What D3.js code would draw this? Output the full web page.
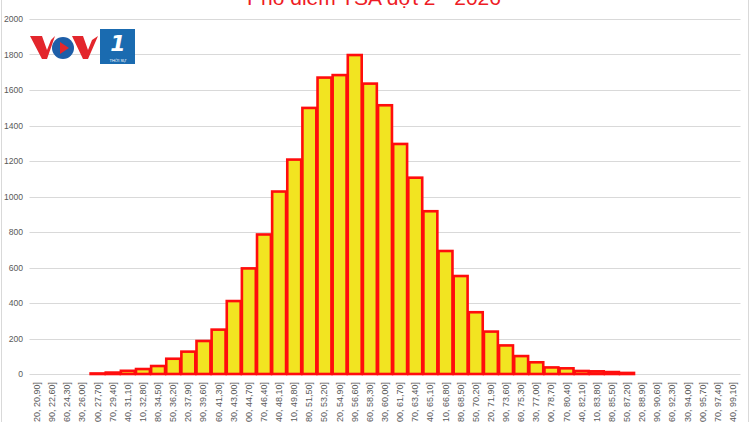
<!DOCTYPE html>
<html>
<head>
<meta charset="utf-8">
<script src="https://cdn.jsdelivr.net/npm/d3@7/dist/d3.min.js"></script>
<style>
html,body{margin:0;padding:0;background:#fff;}
svg{display:block;}
</style>
</head>
<body>
<svg id="chart" width="750" height="422"></svg>
<script>
const titleText = "Phổ điểm TSA đợt 2 - 2026";
const binLabels = [
"[19,20, 20,90]","(20,90, 22,60]","(22,60, 24,30]","(24,30, 26,00]","(26,00, 27,70]",
"(27,70, 29,40]","(29,40, 31,10]","(31,10, 32,80]","(32,80, 34,50]","(34,50, 36,20]",
"(36,20, 37,90]","(37,90, 39,60]","(39,60, 41,30]","(41,30, 43,00]","(43,00, 44,70]",
"(44,70, 46,40]","(46,40, 48,10]","(48,10, 49,80]","(49,80, 51,50]","(51,50, 53,20]",
"(53,20, 54,90]","(54,90, 56,60]","(56,60, 58,30]","(58,30, 60,00]","(60,00, 61,70]",
"(61,70, 63,40]","(63,40, 65,10]","(65,10, 66,80]","(66,80, 68,50]","(68,50, 70,20]",
"(70,20, 71,90]","(71,90, 73,60]","(73,60, 75,30]","(75,30, 77,00]","(77,00, 78,70]",
"(78,70, 80,40]","(80,40, 82,10]","(82,10, 83,80]","(83,80, 85,50]","(85,50, 87,20]",
"(87,20, 88,90]","(88,90, 90,60]","(90,60, 92,30]","(92,30, 94,00]","(94,00, 95,70]",
"(95,70, 97,40]","(97,40, 99,10]"
];
const counts = [
0,0,0,0,3,
8,18,28,45,86,
126,186,250,411,595,
786,1028,1208,1499,1670,
1684,1797,1636,1514,1296,
1106,917,693,552,348,
239,161,101,66,37,
32,17,15,11,6,
0,0,0,0,0,
0,0
];
const yTicks = [0,200,400,600,800,1000,1200,1400,1600,1800,2000];

const svg = d3.select("#chart");
const W = 750, H = 422;

// chart border
svg.append("rect").attr("x",1.5).attr("y",-5).attr("width",W-3).attr("height",H+10)
  .attr("fill","none").attr("stroke","#d9d9d9").attr("stroke-width",1);

const x = d3.scaleBand().domain(binLabels).range([29.5, 740.5]).paddingInner(0.08).paddingOuter(0.04);
const y = d3.scaleLinear().domain([0,2000]).range([374, 19]);

// gridlines
svg.append("g").selectAll("line").data(yTicks).join("line")
  .attr("x1",29.5).attr("x2",740.5)
  .attr("y1",d=>Math.round(y(d))+0.5).attr("y2",d=>Math.round(y(d))+0.5)
  .attr("stroke","#d9d9d9").attr("stroke-width",1);

// y axis labels
const yAxis = d3.axisLeft(y).tickValues(yTicks).tickFormat(d3.format("d")).tickSize(0).tickPadding(0);
const gy = svg.append("g").attr("transform","translate(23,0)").call(yAxis);
gy.select(".domain").remove();
gy.selectAll("text").attr("fill","#595959").attr("font-size","8.6px")
  .attr("font-family","'Liberation Sans', Arial, sans-serif");

// bars
const data = binLabels.map((l,i)=>({label:l, value:counts[i]}));
svg.append("g").selectAll("rect").data(data.filter(d=>d.value>0)).join("rect")
  .attr("x",d=>x(d.label)).attr("width",x.bandwidth())
  .attr("y",d=>y(d.value)).attr("height",d=>y(0)-y(d.value))
  .attr("fill","#f2e421").attr("stroke","#ff0d0d").attr("stroke-width",2.6);

// x axis labels
const xAxis = d3.axisBottom(x).tickSize(0).tickPadding(0);
const gx = svg.append("g").attr("transform","translate(0,374)").call(xAxis);
gx.select(".domain").remove();
gx.selectAll("text")
  .attr("fill","#595959").attr("font-size","9px")
  .attr("font-family","'Liberation Sans', Arial, sans-serif")
  .attr("text-anchor","end")
  .attr("dy",null)
  .attr("transform","translate(3,8) rotate(-90)")
  .attr("y",0).attr("x",0);

// title
svg.append("text").attr("x",374).attr("y",5).attr("text-anchor","middle")
  .attr("font-family","'Liberation Sans', Arial, sans-serif").attr("font-size","21px")
  .attr("fill","#ee1c25").text(titleText);

// logo
const logo = svg.append("g");
logo.append("path").attr("d","M30,36 L42,36 L47,50 L51,40 L55,36 L47,59 L42,59 Z").attr("fill","#e3262c");
logo.append("circle").attr("cx",63).attr("cy",48).attr("r",11).attr("fill","#1d5ea8");
logo.append("path").attr("d","M60,42 L69,48 L60,54 Z").attr("fill","#e3262c");
logo.append("path").attr("d","M72,36 L83,36 L88,50 L92,40 L98,36 L88,59 L83,59 Z").attr("fill","#e3262c");
logo.append("rect").attr("x",100).attr("y",29).attr("width",35).attr("height",35).attr("fill","#1a6bb0");
logo.append("text").attr("x",118).attr("y",51).attr("text-anchor","middle")
  .attr("font-family","'DejaVu Sans', sans-serif").attr("font-weight","bold").attr("font-style","italic")
  .attr("font-size","22px").attr("fill","#fff").text("1");
logo.append("text").attr("x",118).attr("y",62).attr("text-anchor","middle")
  .attr("font-family","'Liberation Sans', sans-serif").attr("font-size","4px").attr("fill","#fff").text("THỜI SỰ");
</script>
</body>
</html>
